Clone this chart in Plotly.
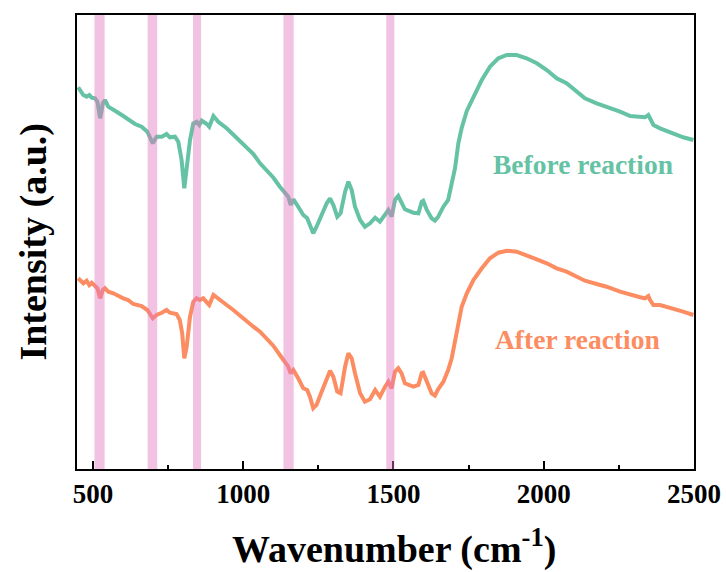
import plotly.graph_objects as go

# Wavenumber (cm-1) sampled along each spectrum
wn_before = [451, 468, 479, 488, 496, 507, 515, 524, 533, 540, 551, 562, 579, 601, 623, 640, 662, 681, 699, 712,
             729, 745, 756, 773, 784, 795, 804, 812, 823, 834, 845, 854, 862, 879, 887, 901, 917, 945, 967, 995,
             1017, 1034, 1056, 1078, 1100, 1122, 1139, 1150, 1158, 1167, 1183, 1200, 1213, 1222, 1233, 1244, 1261,
             1278, 1289, 1300, 1313, 1324, 1339, 1350, 1361, 1372, 1389, 1405, 1422, 1439, 1455, 1472, 1483, 1494,
             1505, 1516, 1527, 1538, 1549, 1566, 1583, 1594, 1599, 1611, 1627, 1638, 1649, 1666, 1682, 1694, 1705,
             1716, 1727, 1744, 1766, 1794, 1821, 1849, 1877, 1910, 1943, 1977, 2010, 2043, 2076, 2110, 2137, 2176,
             2209, 2254, 2288, 2321, 2337, 2348, 2354, 2365, 2387, 2431, 2464, 2498]
int_before = [381.7, 374, 372.3, 374, 371.3, 370.7, 367.3, 350.7, 365.7, 369, 362.3, 360.7, 357.3, 353, 348.3, 345,
              342.3, 337.3, 325.7, 332.3, 332.3, 335, 331.7, 332.3, 327.3, 309, 280.7, 302.3, 329, 345.7, 347.3, 344,
              348.3, 345, 342.3, 353, 347.3, 340.7, 334, 326.3, 319, 315, 305.7, 298.3, 291.5, 282.3, 275.7, 272.3,
              264, 269.7, 262.3, 254, 250.7, 244, 235.7, 242.3, 254, 265.7, 270.7, 264, 252.3, 255.7, 277.3, 287.3,
              279, 262.3, 249, 242.3, 245.7, 251.3, 247.3, 254, 259, 252.3, 269, 273, 267.3, 259.7, 258.3, 256.3,
              255.7, 267.3, 268.3, 259, 250.7, 248.5, 252.3, 262.3, 269, 285, 301, 326, 341, 358, 372.3, 389, 402.3,
              410.7, 414, 414, 410.7, 405.7, 399, 390.7, 385.7, 377.3, 370.7, 365.7, 362.3, 357.3, 353, 352.3, 351.7,
              354, 350.7, 344, 340.7, 335.7, 331.7, 329]

wn_after = [451, 468, 479, 488, 496, 507, 515, 524, 533, 540, 551, 568, 584, 601, 617, 634, 662, 681, 699, 712,
            729, 745, 756, 778, 789, 797, 804, 812, 823, 834, 845, 856, 867, 879, 887, 901, 917, 945, 967, 995,
            1017, 1034, 1056, 1078, 1100, 1122, 1139, 1150, 1158, 1167, 1183, 1200, 1213, 1222, 1233, 1244, 1261,
            1278, 1289, 1300, 1313, 1324, 1339, 1350, 1361, 1372, 1389, 1405, 1422, 1439, 1455, 1472, 1483, 1494,
            1505, 1516, 1527, 1538, 1549, 1566, 1583, 1594, 1599, 1611, 1627, 1638, 1649, 1666, 1682, 1694, 1705,
            1716, 1727, 1744, 1766, 1794, 1821, 1849, 1877, 1910, 1943, 1977, 2010, 2043, 2076, 2110, 2137, 2176,
            2209, 2254, 2288, 2321, 2337, 2348, 2354, 2365, 2387, 2431, 2464, 2498]
int_after = [190.7, 185.7, 188.3, 184, 186.3, 182.3, 180.7, 170.7, 179, 180.7, 177.3, 175.7, 173, 170.7, 169, 165,
             163, 159, 150.7, 154, 156.3, 159, 156.3, 155, 149, 135.7, 110.7, 122.3, 152.3, 167.3, 170.7, 169, 170.7,
             167.3, 164, 174, 170.7, 164, 159, 151.7, 145.7, 142.3, 137.3, 130.7, 123.3, 114, 106.5, 102.3, 95.7,
             99, 90.7, 80.7, 79, 72.3, 60.7, 64, 77.3, 90.7, 98.3, 92.3, 77.3, 75.7, 102.3, 115.7, 110.7, 95.7,
             75.7, 67.3, 69.7, 79, 72.3, 82.3, 87.3, 80.7, 97.3, 100.7, 95.7, 85.7, 84, 82.3, 84, 95.7, 96.3, 87.3,
             75.7, 73.5, 80, 87.3, 99, 111, 127.5, 147.5, 162.3, 175.7, 189, 200.7, 210.7, 216.3, 218.3, 217.3, 214,
             209.7, 205.7, 200.7, 197.3, 192.3, 188.3, 185, 182.3, 177.3, 174, 171.7, 170.7, 173, 169, 164, 164,
             160.7, 157.3, 154]

# Highlighted absorption bands (cm-1)
band_lo = [505, 682, 833, 1134, 1476]
band_hi = [539, 714, 860, 1168, 1503]

series_names = ["Before reaction", "After reaction"]
label_x = [2129, 2112]
label_y = [305, 130]

x_ticks = [500, 1000, 1500, 2000, 2500]

GREEN = "#66C2A5"
ORANGE = "#FC8D62"
FONT = "Liberation Serif, Times New Roman, serif"

fig = go.Figure()
fig.add_trace(go.Scatter(x=wn_before, y=int_before, mode="lines", name=series_names[0],
                         line=dict(color=GREEN, width=4), showlegend=False))
fig.add_trace(go.Scatter(x=wn_after, y=int_after, mode="lines", name=series_names[1],
                         line=dict(color=ORANGE, width=4), showlegend=False))

for lo, hi in zip(band_lo, band_hi):
    fig.add_shape(type="rect", xref="x", yref="paper", x0=lo, x1=hi, y0=0, y1=1,
                  fillcolor="rgba(227,119,194,0.45)", line=dict(width=0), layer="above")

for name, lx, ly, c in zip(series_names, label_x, label_y, [GREEN, ORANGE]):
    fig.add_annotation(x=lx, y=ly, xref="x", yref="y", text=name, showarrow=False,
                       font=dict(family=FONT, size=27.5, color=c, weight="bold"))

# axis titles
fig.add_annotation(x=0.513, y=-0.171, xref="paper", yref="paper", text="Wavenumber (cm<sup>-1</sup>)",
                   showarrow=False, xanchor="center", yanchor="middle",
                   font=dict(family=FONT, size=38, color="black", weight="bold"))
fig.add_annotation(x=-0.072, y=0.5, xref="paper", yref="paper", text="Intensity (a.u.)",
                   showarrow=False, textangle=-90, xanchor="center", yanchor="middle",
                   font=dict(family=FONT, size=38, color="black", weight="bold"))

fig.update_layout(
    width=726, height=572,
    margin=dict(l=77, r=32, t=15, b=103, autoexpand=False),
    paper_bgcolor="white", plot_bgcolor="white",
    font=dict(family=FONT, color="black"),
)
fig.update_xaxes(
    range=[447, 2500], tickvals=x_ticks, ticktext=[str(v) for v in x_ticks],
    ticks="inside", ticklen=8, tickwidth=2, tickcolor="black", automargin=False,
    minor=dict(ticks="inside", ticklen=4, tickwidth=1.5, tickcolor="black", tickvals=[750, 1250, 1750, 2250]),
    showline=True, linewidth=2, linecolor="black", mirror=True, showgrid=False, zeroline=False,
    tickfont=dict(family=FONT, size=27, color="black", weight="bold"),
)
fig.update_yaxes(
    range=[0, 454], showticklabels=False, ticks="", automargin=False,
    showline=True, linewidth=2, linecolor="black", mirror=True, showgrid=False, zeroline=False,
)

fig.write_html("out.html")
